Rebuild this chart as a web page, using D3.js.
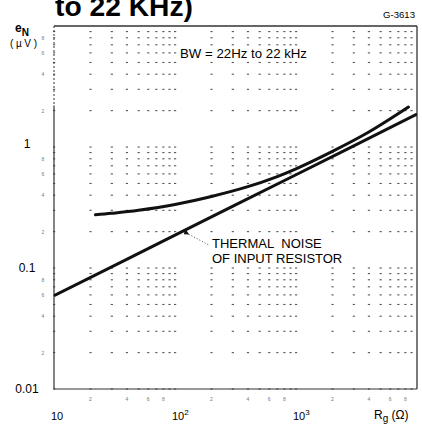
<!DOCTYPE html>
<html>
<head>
<meta charset="utf-8">
<script src="https://cdn.jsdelivr.net/npm/d3@7"></script>
<style>
  body { margin: 0; background: #fff; }
  svg { display: block; font-family: "Liberation Sans", Arial, sans-serif; }
</style>
</head>
<body>
<svg id="chart" width="422" height="425"></svg>
<script>
// ---- values ----
const totalRg = [22, 30, 50, 100, 200, 400, 700, 1000, 2000, 4000, 8500]; // source resistance, ohm
const totalEn = [0.275, 0.283, 0.300, 0.335, 0.39, 0.47, 0.57, 0.66, 0.92, 1.33, 2.14]; // total noise, uV
const thermalRg = [10, 100, 1000, 10000];
const thermalEn = [0.059, 0.187, 0.59, 1.87]; // thermal noise of input resistor, uV
const xDecades = [10, 100, 1000];
const yDecades = [0.01, 0.1, 1];
const xTickLabels = [ { v: 10, base: "10", sup: "" }, { v: 100, base: "10", sup: "2" }, { v: 1000, base: "10", sup: "3" } ];
const yTickLabels = [ { v: 0.01, t: "0.01" }, { v: 0.1, t: "0.1" }, { v: 1, t: "1" } ];
const minorMults = [2, 4, 6, 8];

const svg = d3.select("#chart");
const W = 422, H = 425;

svg.append("rect").attr("width", W).attr("height", H).attr("fill", "#fff");

// log scales, one decade ~121px each way
const x = d3.scaleLog().domain([10, 10000]).range([54, 417]);
const y = d3.scaleLog().domain([0.01, 10]).range([389, 26]);

// grid: log paper, the scan only kept the crossings
let gx = [], gy = [];
xDecades.forEach(d => d3.range(1, 10).forEach(m => gx.push(d * m)));
yDecades.forEach(d => d3.range(1, 10).forEach(m => gy.push(d * m)));
let cross = [];
gx.forEach(a => gy.forEach(b => cross.push({ a, b })));

svg.append("g")
  .selectAll("rect")
  .data(cross)
  .enter()
  .append("rect")
  .attr("x", d => x(d.a) - 1)
  .attr("y", d => y(d.b) - 0.5)
  .attr("width", 2.2)
  .attr("height", 1.1)
  .attr("fill", "#555");

// frame
const frame = svg.append("g").attr("stroke", "#333").attr("fill", "none");
frame.append("line").attr("x1", x(10)).attr("x2", x(10000)).attr("y1", y(10)).attr("y2", y(10)).attr("stroke-width", 1.3);
frame.append("line").attr("x1", x(10000)).attr("x2", x(10000)).attr("y1", y(10)).attr("y2", y(0.01)).attr("stroke-width", 1.3);
frame.append("line").attr("x1", x(10)).attr("x2", x(10000)).attr("y1", y(0.01)).attr("y2", y(0.01)).attr("stroke-width", 1.2);
frame.append("line").attr("x1", x(10)).attr("x2", x(10)).attr("y1", y(2.2)).attr("y2", y(0.01)).attr("stroke-width", 1.2);
frame.append("line").attr("x1", x(10)).attr("x2", x(10)).attr("y1", y(10)).attr("y2", y(2.2))
  .attr("stroke-width", 1).attr("stroke-dasharray", "2,2");

// white patches under the notes
svg.append("rect").attr("x", 178).attr("y", 47).attr("width", 132).attr("height", 14).attr("fill", "#fff");
svg.append("rect").attr("x", 209).attr("y", 237).attr("width", 136).attr("height", 29).attr("fill", "#fff");

// curves
svg.append("clipPath").attr("id", "plot")
  .append("rect").attr("x", x(10)).attr("y", y(10)).attr("width", x(10000) - x(10)).attr("height", y(0.01) - y(10));

const line = d3.line()
  .x(d => x(d[0]))
  .y(d => y(d[1]))
  .curve(d3.curveCatmullRom.alpha(0.5));

const curves = svg.append("g").attr("clip-path", "url(#plot)");
curves.append("path")
  .datum(totalRg.map((r, i) => [r, totalEn[i]]))
  .attr("d", line)
  .attr("fill", "none")
  .attr("stroke", "#111")
  .attr("stroke-width", 3)
  .attr("stroke-linecap", "round");
curves.append("path")
  .datum(thermalRg.map((r, i) => [r, thermalEn[i]]))
  .attr("d", line)
  .attr("fill", "none")
  .attr("stroke", "#111")
  .attr("stroke-width", 3);

// ---- texts ----
svg.append("text")
  .attr("x", 55).attr("y", 16)
  .attr("font-size", 28).attr("font-weight", "bold")
  .attr("textLength", 138).attr("lengthAdjust", "spacingAndGlyphs")
  .text("to 22 KHz)");

svg.append("text")
  .attr("x", 383).attr("y", 18)
  .attr("font-size", 8.5)
  .attr("textLength", 32).attr("lengthAdjust", "spacingAndGlyphs")
  .text("G-3613");

// y title
let eN = svg.append("text").attr("x", 15).attr("y", 32).attr("font-size", 12).attr("font-weight", "bold");
eN.append("tspan").text("e");
eN.append("tspan").attr("dy", 4).attr("font-size", 10).text("N");
svg.append("text")
  .attr("x", 10).attr("y", 47)
  .attr("font-size", 10)
  .attr("textLength", 27).attr("lengthAdjust", "spacing")
  .text("(µV)");

// y labels
svg.append("g")
  .selectAll("text")
  .data(yTickLabels)
  .enter()
  .append("text")
  .attr("x", 27)
  .attr("y", d => y(d.v) + (d.v === 1 ? 1 : 4))
  .attr("text-anchor", "middle")
  .attr("font-size", 12)
  .text(d => d.t);

// x labels
let xl = svg.append("g")
  .selectAll("text")
  .data(xTickLabels)
  .enter()
  .append("text")
  .attr("x", d => x(d.v) - 3)
  .attr("y", 420)
  .attr("font-size", 11);
xl.append("tspan").text(d => d.base);
xl.append("tspan").attr("dy", -5).attr("font-size", 8).text(d => d.sup);

let rg = svg.append("text").attr("x", 374).attr("y", 419).attr("font-size", 12);
rg.append("tspan").text("R");
rg.append("tspan").attr("dy", 3).attr("font-size", 10).text("g");
rg.append("tspan").attr("dy", -3).text(" (Ω)");

// tiny minor-decade numbers
let minorY = [], minorX = [];
yDecades.forEach(d => minorMults.forEach(m => minorY.push({ v: d * m, m })));
xDecades.forEach(d => minorMults.forEach(m => minorX.push({ v: d * m, m })));
svg.append("g")
  .selectAll("text")
  .data(minorY)
  .enter()
  .append("text")
  .attr("x", 43).attr("y", d => y(d.v) + 2)
  .attr("text-anchor", "middle")
  .attr("font-size", 5).attr("fill", "#777")
  .text(d => d.m);
svg.append("g")
  .selectAll("text")
  .data(minorX)
  .enter()
  .append("text")
  .attr("x", d => x(d.v)).attr("y", 401)
  .attr("text-anchor", "middle")
  .attr("font-size", 5).attr("fill", "#777")
  .text(d => d.m);

// notes
svg.append("text")
  .attr("x", 180).attr("y", 58)
  .attr("font-size", 12.5)
  .attr("textLength", 127).attr("lengthAdjust", "spacingAndGlyphs")
  .text("BW = 22Hz to 22 kHz");

svg.append("text").attr("x", 212).attr("y", 248).attr("font-size", 13).text("THERMAL\u00A0 NOISE");
svg.append("text").attr("x", 212).attr("y", 263).attr("font-size", 13).text("OF INPUT RESISTOR");

svg.append("defs").append("marker")
  .attr("id", "tip")
  .attr("viewBox", "0 0 10 10")
  .attr("refX", 1).attr("refY", 5)
  .attr("markerWidth", 6).attr("markerHeight", 6)
  .attr("orient", "auto-start-reverse")
  .append("path")
  .attr("d", "M0,5 L10,0 L10,10 Z")
  .attr("fill", "#111");

svg.append("line")
  .attr("x1", x(130)).attr("y1", y(0.19))
  .attr("x2", x(190)).attr("y2", y(0.155))
  .attr("stroke", "#333")
  .attr("stroke-width", 0.9)
  .attr("stroke-dasharray", "1,2")
  .attr("marker-start", "url(#tip)");
</script>
</body>
</html>
